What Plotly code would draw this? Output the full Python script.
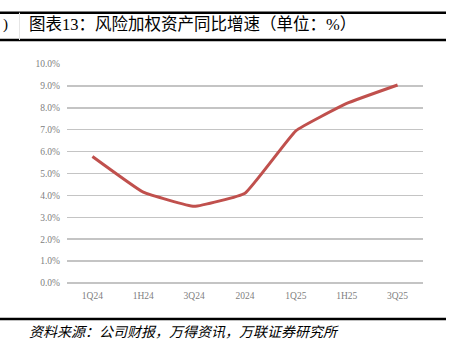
import plotly.graph_objects as go

categories = ["1Q24", "1H24", "3Q24", "2024", "1Q25", "1H25", "3Q25"]
rwa_growth = [5.78, 4.15, 3.50, 4.10, 6.95, 8.20, 9.04]
y_ticks = [0, 1, 2, 3, 4, 5, 6, 7, 8, 9, 10]
y_tick_labels = ["0.0%", "1.0%", "2.0%", "3.0%", "4.0%", "5.0%", "6.0%", "7.0%", "8.0%", "9.0%", "10.0%"]

title_text = "图表13：风险加权资产同比增速（单位：%）"
source_text = "资料来源：公司财报，万得资讯，万联证券研究所"

W, H = 454, 360
L, R, T, B = 67, 423, 64, 283


def px(x):
    return (x - L) / (R - L)


def py(y):
    return (B - y) / (B - T)


fig = go.Figure()
fig.add_trace(go.Scatter(
    x=categories, y=rwa_growth, mode="lines",
    line=dict(color="#c0504d", width=3, shape="spline", smoothing=0.3),
    hoverinfo="skip", showlegend=False,
))

serif = "Liberation Serif, Noto Sans CJK SC, serif"

fig.update_layout(
    width=W, height=H,
    margin=dict(l=L, r=W - R, t=T, b=H - B),
    paper_bgcolor="white", plot_bgcolor="white",
    font=dict(family=serif, color="#7f7f7f", size=9),
    xaxis=dict(
        type="category", range=[-0.5, 6.5], showgrid=False, zeroline=False,
        showline=False, ticks="", ticklabelstandoff=5,
        tickfont=dict(size=9.5, color="#808080", family=serif),
        fixedrange=True,
    ),
    yaxis=dict(
        range=[0, 10], tickvals=y_ticks, ticktext=y_tick_labels,
        showgrid=True, gridcolor="#c4c4c4", gridwidth=1.5,
        zeroline=True, zerolinecolor="#c4c4c4", zerolinewidth=1.5,
        showline=False, ticks="", ticklabelstandoff=6,
        tickfont=dict(size=9.5, color="#808080", family=serif),
        fixedrange=True,
    ),
    shapes=[
        dict(type="line", xref="paper", yref="paper", x0=px(0), x1=px(446),
             y0=py(12.7), y1=py(12.7), line=dict(color="black", width=2.5)),
        dict(type="line", xref="paper", yref="paper", x0=px(0), x1=px(446),
             y0=py(40), y1=py(40), line=dict(color="black", width=2.5)),
        dict(type="line", xref="paper", yref="paper", x0=px(0), x1=px(446),
             y0=py(319), y1=py(319), line=dict(color="black", width=2.5)),
        dict(type="line", xref="paper", yref="paper", x0=px(19.5), x1=px(19.5),
             y0=py(12.7), y1=py(40), line=dict(color="#e6e6e6", width=1)),
    ],
    annotations=[
        dict(text=")", xref="paper", yref="paper", x=px(1), y=py(25),
             xanchor="left", yanchor="middle", showarrow=False,
             font=dict(family=serif, size=15, color="black")),
        dict(text=title_text, xref="paper", yref="paper", x=px(27), y=py(25),
             xanchor="left", yanchor="middle", showarrow=False,
             font=dict(family=serif, size=16.5, color="black")),
        dict(text="<i>" + source_text + "</i>", xref="paper", yref="paper",
             x=px(27), y=py(332), xanchor="left", yanchor="middle", showarrow=False,
             font=dict(family=serif, size=14, color="black")),
    ],
)

fig.write_html(
    "out.html",
    config={"displayModeBar": False, "staticPlot": True},
    post_script="document.body.style.margin='0';document.body.style.overflow='hidden';",
)
